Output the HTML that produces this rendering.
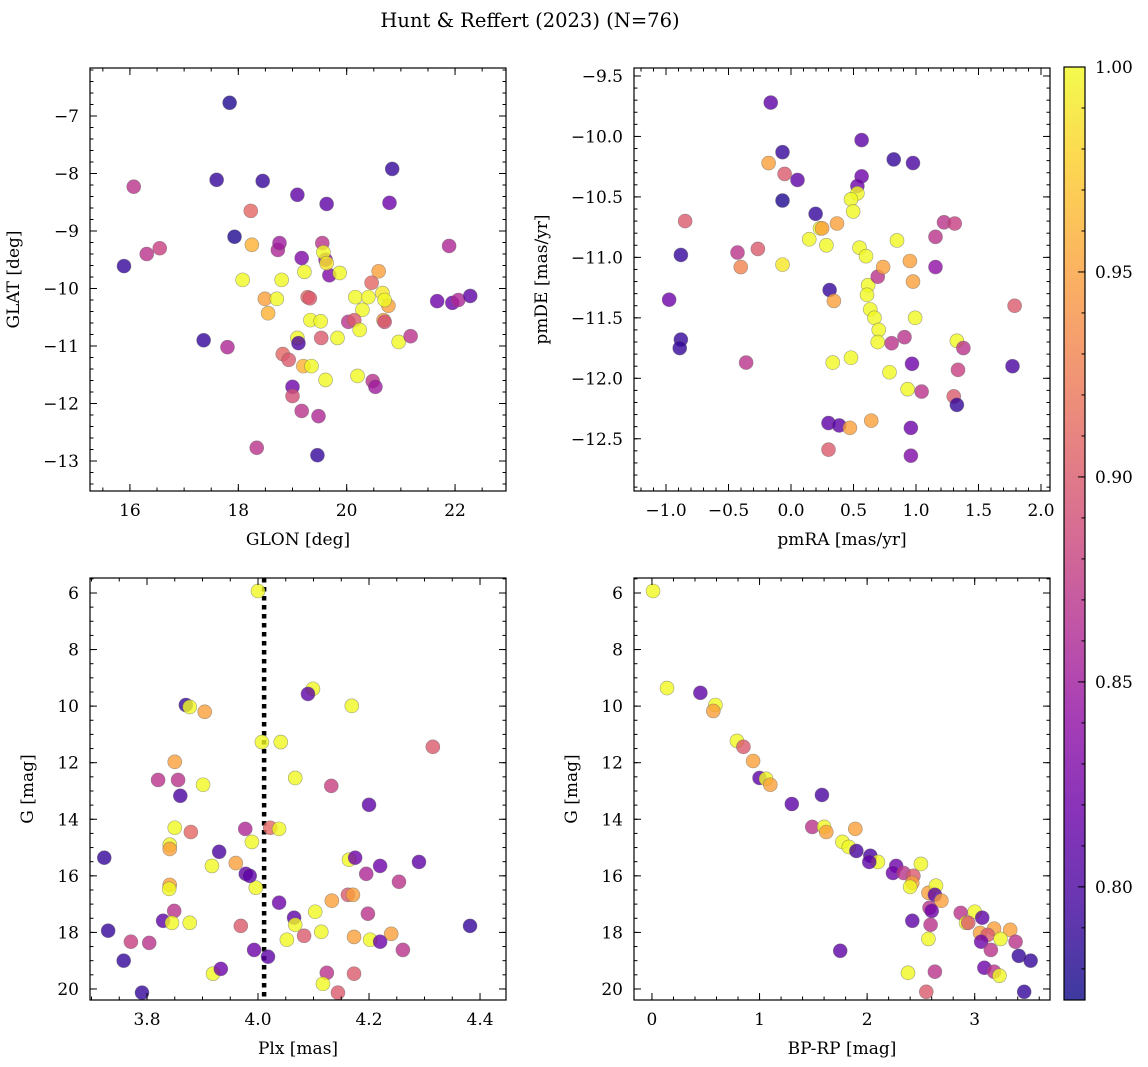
<!DOCTYPE html>
<html><head><meta charset="utf-8"><style>
html,body{margin:0;padding:0;background:#fff;}
svg{display:block;font-family:"DejaVu Serif","Liberation Serif",serif;}
</style></head><body>
<svg id="fig" width="1148" height="1067" viewBox="0 0 1148 1067" xmlns="http://www.w3.org/2000/svg">
<defs>
<linearGradient id="cbgrad" x1="0" y1="1" x2="0" y2="0">
<stop offset="0" stop-color="#0d0887"/><stop offset="0.1" stop-color="#41049d"/><stop offset="0.2" stop-color="#6a00a8"/><stop offset="0.3" stop-color="#8f0da4"/><stop offset="0.4" stop-color="#b12a90"/><stop offset="0.5" stop-color="#cc4778"/><stop offset="0.6" stop-color="#e16462"/><stop offset="0.7" stop-color="#f2844b"/><stop offset="0.8" stop-color="#fca636"/><stop offset="0.9" stop-color="#fcce25"/><stop offset="1" stop-color="#f0f921"/>
</linearGradient>
</defs>
<text x="530" y="27" font-size="19.5" text-anchor="middle">Hunt &amp; Reffert (2023) (N=76)</text>
</svg>
<script>
// ---- Panel 1: GLON vs GLAT ----
const glon=[17.84,16.07,17.60,18.45,19.09,19.63,20.84,20.79,18.23,15.89,16.31,16.55,17.93,18.25,18.73,18.76,19.17,19.55,19.61,19.57,19.22,19.68,19.87,20.59,20.46,19.63,18.08,18.80,18.49,18.71,18.55,19.28,19.32,20.16,20.40,20.66,20.77,20.70,20.29,19.33,19.52,20.03,20.14,20.24,20.68,20.70,21.67,21.95,22.06,22.28,21.89,17.36,17.80,19.09,19.11,18.82,18.93,19.20,19.35,19.53,19.83,20.96,21.18,19.61,20.20,20.48,20.53,19.00,19.00,19.17,19.48,18.34,19.46];
const glat=[-6.77,-8.23,-8.11,-8.13,-8.37,-8.53,-7.92,-8.51,-8.65,-9.61,-9.40,-9.30,-9.10,-9.24,-9.33,-9.21,-9.47,-9.21,-9.50,-9.37,-9.71,-9.77,-9.73,-9.70,-9.90,-9.56,-9.85,-9.85,-10.18,-10.18,-10.43,-10.15,-10.17,-10.15,-10.15,-10.08,-10.30,-10.20,-10.37,-10.55,-10.57,-10.58,-10.55,-10.72,-10.55,-10.58,-10.22,-10.25,-10.20,-10.13,-9.26,-10.90,-11.02,-10.86,-10.95,-11.14,-11.24,-11.35,-11.35,-10.86,-10.86,-10.93,-10.83,-11.59,-11.52,-11.61,-11.71,-11.71,-11.87,-12.13,-12.22,-12.77,-12.90];
const probA=[.78,.87,.79,.79,.81,.81,.79,.82,.91,.79,.87,.88,.78,.96,.86,.85,.83,.87,.84,1.0,1.0,.83,1.0,.95,.91,.99,1.0,1.0,.95,1.0,.96,.91,.90,1.0,1.0,.99,.95,1.0,1.0,1.0,1.0,.87,.90,1.0,.95,.89,.82,.82,.86,.81,.86,.79,.86,1.0,.80,.91,.90,.96,1.0,.90,1.0,1.0,.87,1.0,1.0,.87,.85,.82,.89,.87,.86,.87,.79];
// ---- Panel 2: pmRA vs pmDE ----
const pmra=[-0.162,-0.068,0.052,-0.068,-0.179,-0.051,0.565,0.976,0.822,0.565,0.531,0.531,0.480,0.497,0.197,0.232,0.249,0.146,0.283,0.368,-0.847,-0.881,-0.428,-0.265,-0.068,-0.402,0.548,0.600,0.848,-0.975,-0.881,-0.890,-0.359,0.309,0.343,0.617,0.608,0.694,0.737,0.951,1.156,1.156,1.224,1.310,0.976,0.634,0.668,0.993,0.702,0.694,0.908,0.805,1.327,1.379,0.968,0.788,1.336,0.933,1.045,1.302,1.327,1.789,1.772,0.300,0.386,0.471,0.642,0.959,0.300,0.959,0.480,0.334];
const pmde=[-9.72,-10.13,-10.36,-10.53,-10.22,-10.31,-10.03,-10.22,-10.19,-10.33,-10.41,-10.47,-10.52,-10.62,-10.64,-10.76,-10.76,-10.85,-10.90,-10.72,-10.70,-10.98,-10.96,-10.93,-11.06,-11.08,-10.92,-10.99,-10.86,-11.35,-11.68,-11.75,-11.87,-11.27,-11.36,-11.23,-11.31,-11.16,-11.08,-11.03,-11.08,-10.83,-10.71,-10.72,-11.20,-11.43,-11.50,-11.50,-11.60,-11.70,-11.66,-11.71,-11.69,-11.75,-11.88,-11.95,-11.93,-12.09,-12.11,-12.15,-12.22,-11.40,-11.90,-12.37,-12.39,-12.41,-12.35,-12.41,-12.59,-12.64,-11.83,-11.87];
const probB=[.81,.79,.81,.78,.95,.90,.81,.80,.79,.82,.82,1.0,1.0,1.0,.79,1.0,.95,1.0,1.0,.95,.90,.79,.87,.90,.99,.93,1.0,1.0,1.0,.82,.79,.79,.87,.79,.95,1.0,1.0,.87,.95,.95,.84,.87,.87,.88,.95,1.0,1.0,1.0,1.0,1.0,.87,.87,1.0,.87,.82,1.0,.88,1.0,.87,.90,.79,.90,.80,.81,.81,.95,.95,.82,.90,.83,1.0,1.0];
// ---- Panel 3: Plx vs G ----
const plx=[4.000,3.870,3.877,3.904,4.099,4.090,4.169,4.007,4.041,4.315,3.850,3.820,3.856,3.901,4.067,4.132,3.860,4.200,3.850,3.879,3.977,4.022,4.038,3.841,3.841,3.989,3.930,3.723,3.917,3.960,3.996,4.164,4.175,4.290,4.220,4.195,3.978,3.985,4.254,3.841,3.840,4.038,4.133,4.162,4.171,3.849,4.103,4.198,4.065,4.067,3.829,3.845,3.877,3.969,3.730,4.114,4.382,4.240,4.083,4.173,4.202,4.220,4.052,3.771,3.804,3.993,4.261,4.018,3.758,3.919,3.933,4.124,4.117,4.173,3.791,4.144];
const gmagA=[5.93,9.96,10.03,10.20,9.39,9.57,9.99,11.27,11.27,11.44,11.97,12.61,12.61,12.78,12.54,12.82,13.17,13.49,14.30,14.45,14.34,14.30,14.34,14.90,15.05,14.80,15.15,15.36,15.65,15.55,16.42,15.43,15.36,15.51,15.65,15.93,15.93,16.00,16.21,16.32,16.46,16.95,16.88,16.67,16.67,17.24,17.27,17.34,17.48,17.73,17.59,17.66,17.66,17.77,17.94,17.98,17.77,18.05,18.12,18.16,18.26,18.33,18.26,18.33,18.37,18.62,18.62,18.86,19.00,19.46,19.29,19.43,19.82,19.46,20.13,20.13];
const probC=[1.0,.79,1.0,.95,1.0,.81,1.0,1.0,1.0,.90,.95,.87,.87,1.0,1.0,.88,.80,.81,1.0,.91,.86,.91,1.0,1.0,.95,1.0,.80,.79,1.0,.95,1.0,1.0,.82,.81,.82,.86,.81,.81,.87,.95,1.0,.82,.95,.90,.95,.87,1.0,.87,.81,1.0,.81,1.0,1.0,.90,.79,1.0,.79,.95,.90,.95,1.0,.82,1.0,.88,.87,.82,.87,.81,.79,1.0,.82,.87,1.0,.90,.79,.90];
// ---- Panel 4: BP-RP vs G ----
const bprp=[0.01,0.14,0.45,0.59,0.57,0.79,0.85,0.94,1.00,1.06,1.10,1.30,1.58,1.49,1.60,1.62,1.89,1.77,1.83,1.90,2.03,2.10,2.02,2.27,2.50,2.24,2.34,2.43,2.42,2.40,2.57,2.64,2.63,2.69,2.58,2.60,2.87,3.00,3.07,2.42,2.59,2.92,2.94,3.18,3.33,3.05,3.12,3.24,2.57,3.06,3.38,3.15,1.75,3.41,3.52,3.09,3.18,2.38,2.63,3.23,2.55,3.46];
const gmagB=[5.93,9.36,9.53,9.96,10.17,11.23,11.44,11.94,12.54,12.57,12.78,13.46,13.14,14.27,14.27,14.45,14.34,14.80,14.98,15.12,15.29,15.51,15.51,15.65,15.58,15.90,15.90,16.00,16.25,16.39,16.60,16.35,16.67,16.88,17.13,17.24,17.31,17.27,17.48,17.59,17.73,17.66,17.66,17.87,17.91,18.02,18.09,18.23,18.23,18.33,18.33,18.62,18.65,18.83,19.00,19.25,19.39,19.43,19.39,19.53,20.10,20.10];
const probD=[1.0,1.0,.81,1.0,.95,1.0,.90,.95,.81,1.0,.95,.81,.80,.87,1.0,.95,.95,1.0,1.0,.80,.80,1.0,.81,.82,1.0,.82,.87,.90,.95,1.0,.95,1.0,.81,.95,.87,.82,.87,1.0,.81,.81,.87,1.0,.90,.95,.95,.95,.90,1.0,1.0,.82,.87,.87,.81,.79,.79,.82,.87,1.0,.87,1.0,.90,.79];
// ---- Colorbar ----
const cbTicks=[0.80,0.85,0.90,0.95,1.00];
const cbMin=0.7724, cbMax=1.0;
const plasma=["#0d0887","#41049d","#6a00a8","#8f0da4","#b12a90","#cc4778","#e16462","#f2844b","#fca636","#fcce25","#f0f921"];

const NS="http://www.w3.org/2000/svg";
const svg=document.getElementById('fig');
function mk(tag,attrs,parent){const e=document.createElementNS(NS,tag);for(const k in attrs)e.setAttribute(k,attrs[k]);(parent||svg).appendChild(e);return e;}
function hex(h){return[parseInt(h.slice(1,3),16),parseInt(h.slice(3,5),16),parseInt(h.slice(5,7),16)];}
function cmap(v){let t=(v-cbMin)/(cbMax-cbMin);t=Math.max(0,Math.min(1,t));const f=t*10,i=Math.min(9,Math.floor(f)),r=f-i;const a=hex(plasma[i]),b=hex(plasma[i+1]);return 'rgb('+a.map((c,j)=>Math.round(c+(b[j]-c)*r)).join(',')+')';}
function fmt(v,d){const s=Math.abs(v).toFixed(d);return (v<-1e-9?'\u2212':'')+s;}
const FS=17;

function panel(o){
  const {L,T,R,B,xmin,xmax,ymin,ymax,inv}=o;
  const sx=v=>L+(v-xmin)/(xmax-xmin)*(R-L);
  const sy=inv? v=>T+(v-ymin)/(ymax-ymin)*(B-T) : v=>B-(v-ymin)/(ymax-ymin)*(B-T);
  const g=mk('g',{});
  
  
  if(o.vline!==undefined){
    const vl=mk('line',{x1:sx(o.vline),x2:sx(o.vline),y1:T,y2:B,stroke:'#000','stroke-width':4.5,'stroke-dasharray':'4.5,4.5'},g);
    
    
  }
  const pts=mk('g',{},g);
  
  
  for(let i=0;i<o.xs.length;i++){
    const c=mk('circle',{cx:sx(o.xs[i]),cy:sy(o.ys[i]),r:7,fill:cmap(o.cs[i]),'fill-opacity':0.8,stroke:'#666','stroke-opacity':0.6,'stroke-width':0.6},pts);
    
    
  }
  const fr=mk('rect',{x:L,y:T,width:R-L,height:B-T,fill:'none',stroke:'#000','stroke-width':1.2},g);
  
  
  function ticksX(step,len,labels,dec){
    const s=Math.ceil(xmin/step-1e-6);
    for(let k=s;k*step<=xmax+1e-9;k++){const v=k*step,x=sx(v);
      mk('line',{x1:x,x2:x,y1:B,y2:B-len,stroke:'#000','stroke-width':1},g);
      mk('line',{x1:x,x2:x,y1:T,y2:T+len,stroke:'#000','stroke-width':1},g);
      if(labels){const t=mk('text',{x:x,y:B+25,'font-size':FS,'text-anchor':'middle'},g);t.textContent=fmt(v,dec);
        }
    }
  }
  function ticksY(step,len,labels,dec){
    const lo=Math.min(ymin,ymax),hi=Math.max(ymin,ymax);
    const s=Math.ceil(lo/step-1e-6);
    for(let k=s;k*step<=hi+1e-9;k++){const v=k*step,y=sy(v);
      mk('line',{x1:L,x2:L+len,y1:y,y2:y,stroke:'#000','stroke-width':1},g);
      mk('line',{x1:R,x2:R-len,y1:y,y2:y,stroke:'#000','stroke-width':1},g);
      if(labels){const t=mk('text',{x:L-11,y:y+6,'font-size':FS,'text-anchor':'end'},g);t.textContent=fmt(v,dec);
        }
    }
  }
  ticksX(o.xminor,3.5,false);ticksX(o.xmajor,7,true,o.xdec);
  ticksY(o.yminor,3.5,false);ticksY(o.ymajor,7,true,o.ydec);
  const xl=mk('text',{x:(L+R)/2,y:B+54,'font-size':FS,'text-anchor':'middle'},g);xl.textContent=o.xlabel;
  
  const yx=L-o.ylabOff,yy=(T+B)/2;
  const yl=mk('text',{x:yx,y:yy,'font-size':FS,'text-anchor':'middle',transform:'rotate(-90 '+yx+' '+yy+')'},g);yl.textContent=o.ylabel;
  
}

panel({name:'glon-glat-panel',L:90,T:68,R:506,B:491,xmin:15.263,xmax:22.94,ymin:-13.522,ymax:-6.165,xmajor:2,xminor:0.5,ymajor:1,yminor:0.2,xdec:0,ydec:0,xs:glon,ys:glat,cs:probA,xlabel:'GLON [deg]',ylabel:'GLAT [deg]',ylabOff:71});
panel({name:'proper-motion-panel',L:634,T:68,R:1050,B:491,xmin:-1.256,xmax:2.072,ymin:-12.932,ymax:-9.434,xmajor:0.5,xminor:0.1,ymajor:0.5,yminor:0.1,xdec:1,ydec:1,xs:pmra,ys:pmde,cs:probB,xlabel:'pmRA [mas/yr]',ylabel:'pmDE [mas/yr]',ylabOff:87});
panel({name:'plx-g-panel',L:90,T:578,R:506,B:1000,xmin:3.6973,xmax:4.4468,ymin:5.47,ymax:20.39,inv:true,xmajor:0.2,xminor:0.05,ymajor:2,yminor:0.5,xdec:1,ydec:0,xs:plx,ys:gmagA,cs:probC,xlabel:'Plx [mas]',ylabel:'G [mag]',ylabOff:57,vline:4.011});
panel({name:'cmd-panel',L:634,T:578,R:1050,B:1000,xmin:-0.167,xmax:3.70,ymin:5.47,ymax:20.39,inv:true,xmajor:1,xminor:0.2,ymajor:2,yminor:0.5,xdec:0,ydec:0,xs:bprp,ys:gmagB,cs:probD,xlabel:'BP-RP [mag]',ylabel:'G [mag]',ylabOff:57});

(function(){
  const L=1064,R=1085,T=67,B=1000;
  const g=mk('g',{});
  
  
  mk('rect',{x:L,y:T,width:R-L,height:B-T,fill:'url(#cbgrad)','fill-opacity':0.8},g);
  mk('rect',{x:L,y:T,width:R-L,height:B-T,fill:'none',stroke:'#000','stroke-width':1.2},g);
  const sy=v=>B-(v-cbMin)/(cbMax-cbMin)*(B-T);
  for(let k=Math.ceil(cbMin/0.01);k<=100;k++){const y=sy(k*0.01);mk('line',{x1:R,x2:R-3.5,y1:y,y2:y,stroke:'#000','stroke-width':1},g);}
  cbTicks.forEach(v=>{const y=sy(v);mk('line',{x1:R,x2:R-7,y1:y,y2:y,stroke:'#000','stroke-width':1},g);
    const t=mk('text',{x:R+10,y:y+6,'font-size':FS},g);t.textContent=v.toFixed(2);
    });
})();
</script>
</body></html>
